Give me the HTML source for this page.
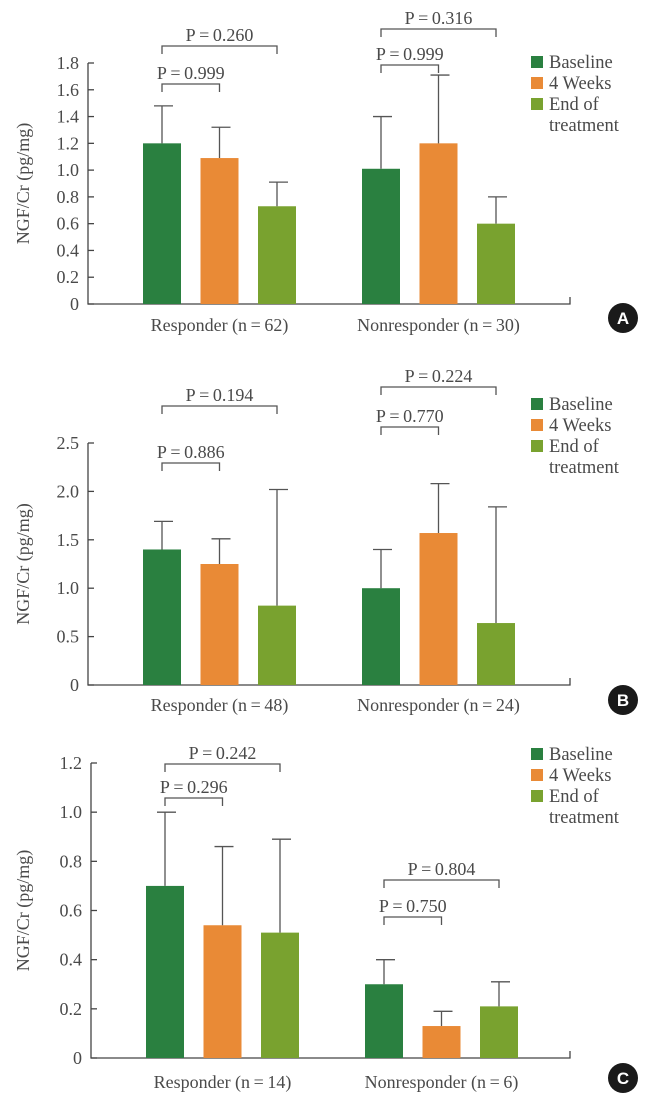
<!DOCTYPE html>
<html><head><meta charset="utf-8"><style>
body{margin:0;background:#fff}
svg{display:block}
text{font-family:"Liberation Serif",serif;fill:#4a4a4a}
</style></head><body>
<svg id="c" width="664" height="1108" viewBox="0 0 664 1108" xmlns="http://www.w3.org/2000/svg"></svg>
<script>
const seriesNames=["Baseline","4 Weeks","End of treatment"];
const colors=["#2a8040","#e98a36","#79a22f"];
const catsA=["Responder (n\u2009=\u200962)","Nonresponder (n\u2009=\u200930)"];
const meanA=[[1.20,1.09,0.73],[1.01,1.20,0.60]];
const errA=[[1.48,1.32,0.91],[1.40,1.71,0.80]];
const ticksA=["0","0.2","0.4","0.6","0.8","1.0","1.2","1.4","1.6","1.8"];
const pA=[["P\u2009=\u20090.999","P\u2009=\u20090.260"],["P\u2009=\u20090.999","P\u2009=\u20090.316"]];
const catsB=["Responder (n\u2009=\u200948)","Nonresponder (n\u2009=\u200924)"];
const meanB=[[1.40,1.25,0.82],[1.00,1.57,0.64]];
const errB=[[1.69,1.51,2.02],[1.40,2.08,1.84]];
const ticksB=["0","0.5","1.0","1.5","2.0","2.5"];
const pB=[["P\u2009=\u20090.886","P\u2009=\u20090.194"],["P\u2009=\u20090.770","P\u2009=\u20090.224"]];
const catsC=["Responder (n\u2009=\u200914)","Nonresponder (n\u2009=\u20096)"];
const meanC=[[0.70,0.54,0.51],[0.30,0.13,0.21]];
const errC=[[1.00,0.86,0.89],[0.40,0.19,0.31]];
const ticksC=["0","0.2","0.4","0.6","0.8","1.0","1.2"];
const pC=[["P\u2009=\u20090.296","P\u2009=\u20090.242"],["P\u2009=\u20090.750","P\u2009=\u20090.804"]];

const svg=document.getElementById('c');
const NS="http://www.w3.org/2000/svg";
function mk(tag,attrs,parent){const e=document.createElementNS(NS,tag);for(const k in attrs)e.setAttribute(k,attrs[k]);(parent||svg).appendChild(e);return e;}

const panels=[
 {id:"a",letter:"A",cats:catsA,mean:meanA,err:errA,ticks:ticksA,p:pA,ax:88,y0:304,yTop:63,max:1.8,groupX:[143,362],br:[[84,46],[65,29]],leg:62,catY:331,circ:318},
 {id:"b",letter:"B",cats:catsB,mean:meanB,err:errB,ticks:ticksB,p:pB,ax:88,y0:685,yTop:443,max:2.5,groupX:[143,362],br:[[463,406],[427,387]],leg:404,catY:711,circ:700},
 {id:"c",letter:"C",cats:catsC,mean:meanC,err:errC,ticks:ticksC,p:pC,ax:91,y0:1058,yTop:763,max:1.2,groupX:[146,365],br:[[798,764],[917,880]],leg:754,catY:1088,circ:1078}
];
panels.forEach(P=>{
 const g=mk('g',{});
 
 
 const y=v=>P.y0-(v/P.max)*(P.y0-P.yTop);
 const ax=mk('path',{d:`M${P.ax},${P.yTop} V${P.y0} H570 V${P.y0-7}`,stroke:'#444',fill:'none','stroke-width':1.3},g);
 
 
 P.ticks.forEach(t=>{
  const v=parseFloat(t);
  mk('line',{x1:P.ax,x2:P.ax+6,y1:y(v),y2:y(v),stroke:'#444','stroke-width':1.3},g);
  const tx=mk('text',{x:P.ax-9,y:y(v)+6,'text-anchor':'end','font-size':18},g);
  tx.textContent=t;
  
  
 });
 const yc=(P.y0+P.yTop)/2;
 const yt=mk('text',{x:0,y:0,'text-anchor':'middle','font-size':18,transform:`translate(29,${yc}) rotate(-90)`},g);
 yt.textContent="NGF/Cr (pg/mg)";
 
 
 P.cats.forEach((c,ci)=>{
  const gx=P.groupX[ci];
  const cx=[];
  P.mean[ci].forEach((m,si)=>{
   const x=gx+si*57.5;
   cx.push(x+19);
   const r=mk('rect',{x:x,y:y(m),width:38,height:P.y0-y(m),fill:colors[si]},g);
   
   
   const e=mk('path',{d:`M${x+19},${y(m)} V${y(P.err[ci][si])} M${x+11},${y(P.err[ci][si])} H${x+30}`,stroke:'#555','stroke-width':1.3,fill:'none'},g);
   
   
  });
  const lbl=mk('text',{x:(cx[0]+cx[2])/2,y:P.catY,'text-anchor':'middle','font-size':18},g);
  lbl.textContent=c;
  
  
  [[cx[0],cx[1]],[cx[0],cx[2]]].forEach((pr,bi)=>{
   const by=P.br[ci][bi];
   const b=mk('path',{d:`M${pr[0]},${by+8} V${by} H${pr[1]} V${by+8}`,stroke:'#555','stroke-width':1.3,fill:'none'},g);
   
   
   const pt=mk('text',{x:(pr[0]+pr[1])/2,y:by-5,'text-anchor':'middle','font-size':18},g);
   pt.textContent=P.p[ci][bi];
   
   
  });
 });
 const lines=["Baseline","4 Weeks","End of","treatment"];
 lines.forEach((l,i)=>{
  const ly=P.leg+i*21;
  if(i<3){const s=mk('rect',{x:531,y:ly-6,width:12,height:12,fill:colors[i]},g);
   
   }
  const t=mk('text',{x:549,y:ly+6,'font-size':18.5},g);
  t.textContent=l;
  
  
 });
 const ci=mk('circle',{cx:623,cy:P.circ,r:15,fill:'#1a1a1a'},g);
 
 
 const ct=mk('text',{x:623,y:P.circ+6,'text-anchor':'middle','font-size':17,'font-weight':'bold',style:'font-family:"Liberation Sans",sans-serif;fill:#fff'},g);
 ct.textContent=P.letter;
 
 
});
</script>
</body></html>
